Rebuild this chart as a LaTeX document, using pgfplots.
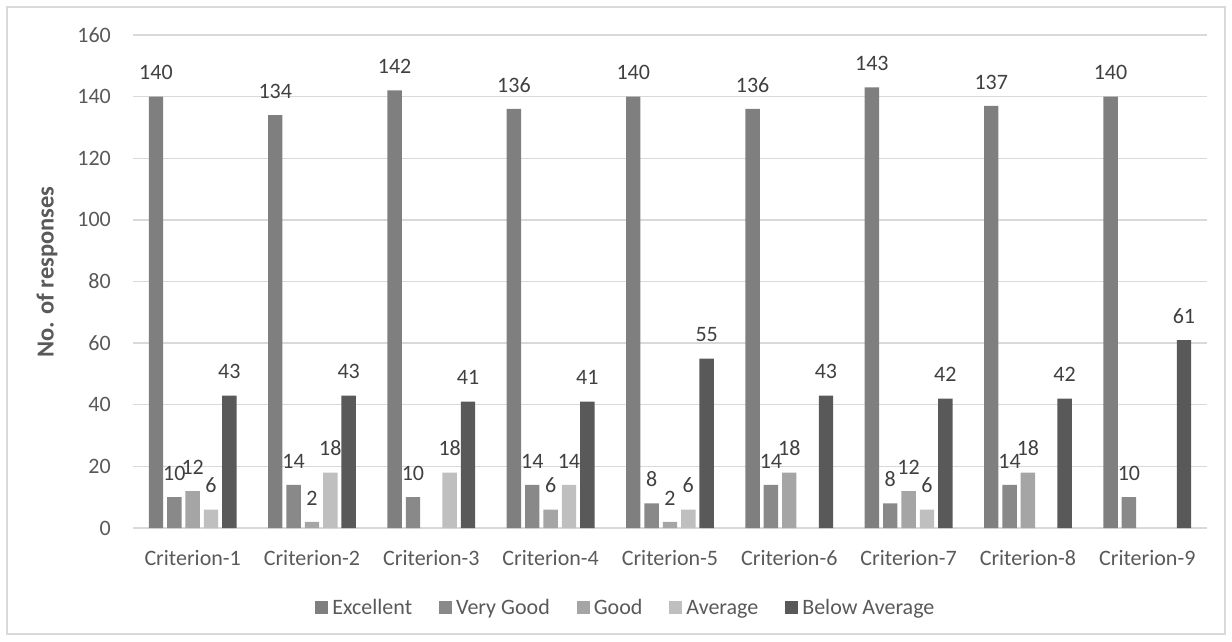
\documentclass[border=0pt]{standalone}
\usepackage{pgfplots}
\pgfplotsset{compat=1.18}
\usepackage{fontspec}
\setmainfont{Carlito}
\definecolor{cExc}{HTML}{7F7F7F}
\definecolor{cVG}{HTML}{898989}
\definecolor{cGood}{HTML}{A5A5A5}
\definecolor{cAvg}{HTML}{BFBFBF}
\definecolor{cBA}{HTML}{595959}
\definecolor{gridc}{HTML}{D9D9D9}
\definecolor{txtc}{HTML}{595959}
\definecolor{lblc}{HTML}{404040}
\begin{document}
\begin{tikzpicture}[font=\fontsize{22}{26.4}\selectfont]
\path[use as bounding box] (0pt,0pt) rectangle (1232pt,641pt);
\draw[gridc, line width=1.2pt] (7pt,7pt) rectangle (1225pt,634pt);
\begin{axis}[
  at={(133pt,113pt)}, anchor=south west,
  scale only axis, width=1074pt, height=493pt,
  xmin=-0.5, xmax=8.5, ymin=0, ymax=160,
  enlargelimits=false,
  ybar=3.95pt, bar width=14.4pt,
  xtick={0,...,8},
  xticklabels={Criterion-1,Criterion-2,Criterion-3,Criterion-4,Criterion-5,Criterion-6,Criterion-7,Criterion-8,Criterion-9},
  ytick={0,20,...,160},
  ymajorgrids, grid style={gridc, line width=1.3pt},
  axis line style={draw=none},
  major tick length=0pt,
  tick style={draw=none},
  /pgf/number format/assume math mode=true,
  ticklabel style={font=\fontsize{22}{26.4}\selectfont, text=txtc},
  yticklabel style={anchor=east, inner sep=0pt, xshift=-22pt},
  xticklabel style={anchor=north, inner sep=0pt, yshift=-22pt},
  ylabel={\bfseries No. of responses},
  ylabel style={at={(axis description cs:-0.0801,0.519)}, anchor=center, rotate=0, font=\fontsize{24.5}{29}\selectfont, text=txtc},
  nodes near coords,
  every node near coord/.append style={font=\fontsize{22}{26.4}\selectfont, text=lblc, anchor=south, inner sep=0pt, yshift=16.5pt},
  legend columns=-1,
  legend style={at={(axis description cs:0.458,-0.162)}, anchor=center, draw=none, fill=none,
    font=\fontsize{22}{26.4}\selectfont, text=txtc,
    nodes={inner sep=0pt},
    /tikz/every odd column/.append style={column sep=4pt},
    /tikz/every even column/.append style={column sep=27pt}},
  legend image code/.code={\fill[#1] (0pt,-6.5pt) rectangle (13pt,6.5pt);},
]
\addplot[fill=cExc, draw=none] coordinates {(0,140)(1,134)(2,142)(3,136)(4,140)(5,136)(6,143)(7,137)(8,140)};
\addplot[fill=cVG, draw=none] coordinates {(0,10)(1,14)(2,10)(3,14)(4,8)(5,14)(6,8)(7,14)(8,10)};
\addplot[fill=cGood, draw=none] coordinates {(0,12)(1,2)(3,6)(4,2)(5,18)(6,12)(7,18)};
\addplot[fill=cAvg, draw=none] coordinates {(0,6)(1,18)(2,18)(3,14)(4,6)(6,6)};
\addplot[fill=cBA, draw=none] coordinates {(0,43)(1,43)(2,41)(3,41)(4,55)(5,43)(6,42)(7,42)(8,61)};
\legend{Excellent,Very Good,Good,Average,Below Average}
\end{axis}
\end{tikzpicture}
\end{document}
